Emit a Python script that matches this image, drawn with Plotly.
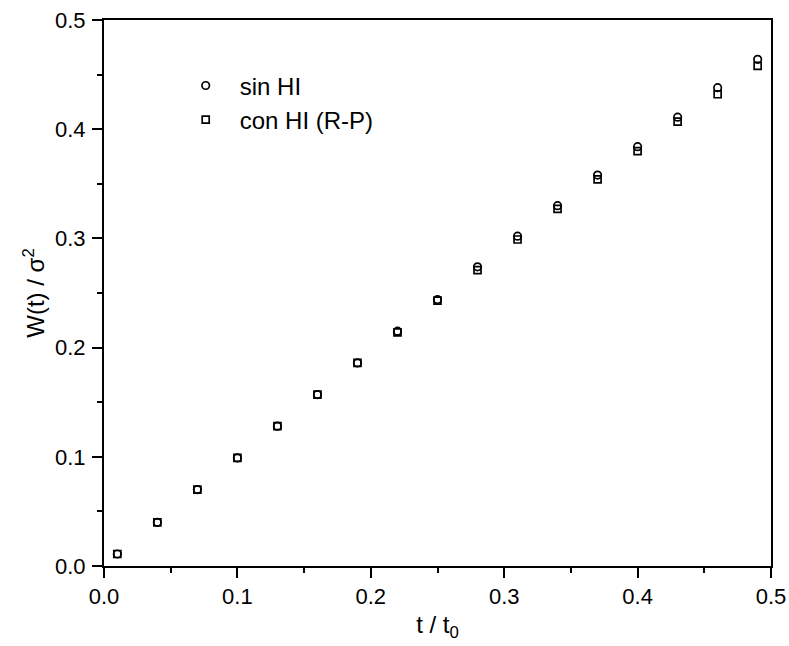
import plotly.graph_objects as go

# time points (t / t0)
t = [0.01, 0.04, 0.07, 0.10, 0.13, 0.16, 0.19, 0.22, 0.25,
     0.28, 0.31, 0.34, 0.37, 0.40, 0.43, 0.46, 0.49]

# W(t)/sigma^2 without hydrodynamic interactions
w_sin_hi = [0.011, 0.040, 0.070, 0.099, 0.128, 0.157, 0.186, 0.215, 0.244,
            0.274, 0.302, 0.330, 0.358, 0.384, 0.411, 0.438, 0.464]

# W(t)/sigma^2 with hydrodynamic interactions (Rotne-Prager)
w_con_hi = [0.011, 0.040, 0.070, 0.099, 0.128, 0.157, 0.186, 0.214, 0.243,
            0.271, 0.299, 0.327, 0.354, 0.380, 0.407, 0.432, 0.458]

x_ticks = [0.0, 0.1, 0.2, 0.3, 0.4, 0.5]
y_ticks = [0.0, 0.1, 0.2, 0.3, 0.4, 0.5]

font_family = "Liberation Sans, Arial, sans-serif"

fig = go.Figure()
fig.add_trace(go.Scatter(
    x=t, y=w_sin_hi, mode="markers", name="sin HI",
    marker=dict(symbol="circle-open", size=7.5, color="black",
                line=dict(width=1.7, color="black")),
))
fig.add_trace(go.Scatter(
    x=t, y=w_con_hi, mode="markers", name="con HI (R-P)",
    marker=dict(symbol="square-open", size=7, color="black",
                line=dict(width=1.7, color="black")),
))

axis_common = dict(
    showline=True, linecolor="black", linewidth=2, mirror=True,
    ticks="outside", ticklen=10, tickwidth=2, tickcolor="black",
    showgrid=False, zeroline=False, automargin=False,
    tickfont=dict(family=font_family, size=22, color="black"),
    minor=dict(ticks="outside", ticklen=5, tickwidth=1.5,
               tickcolor="black", dtick=0.05, showgrid=False),
)

fig.update_xaxes(
    range=[0, 0.5], tickvals=x_ticks,
    ticktext=[f"{v:.1f}" for v in x_ticks],
    ticklabelstandoff=0,
    title=dict(text="t / t<sub>0</sub>",
               font=dict(family=font_family, size=24, color="black"),
               standoff=8),
    **axis_common,
)
fig.update_yaxes(
    range=[0, 0.5], tickvals=y_ticks,
    ticktext=[f"{v:.1f}" for v in y_ticks],
    ticklabelstandoff=2,
    title=dict(text="W(t) / σ<sup>2</sup>",
               font=dict(family=font_family, size=24, color="black"),
               standoff=4),
    **axis_common,
)

fig.update_layout(
    width=789, height=646,
    margin=dict(l=104, r=18, t=20, b=80),
    paper_bgcolor="white", plot_bgcolor="white",
    font=dict(family=font_family, color="black"),
    showlegend=True,
    legend=dict(
        x=0.1015, y=0.9205, xanchor="left", yanchor="top",
        bgcolor="rgba(0,0,0,0)", borderwidth=0,
        font=dict(family=font_family, size=24, color="black"),
        itemwidth=58, tracegroupgap=0,
    ),
)

fig.write_html("out.html")
